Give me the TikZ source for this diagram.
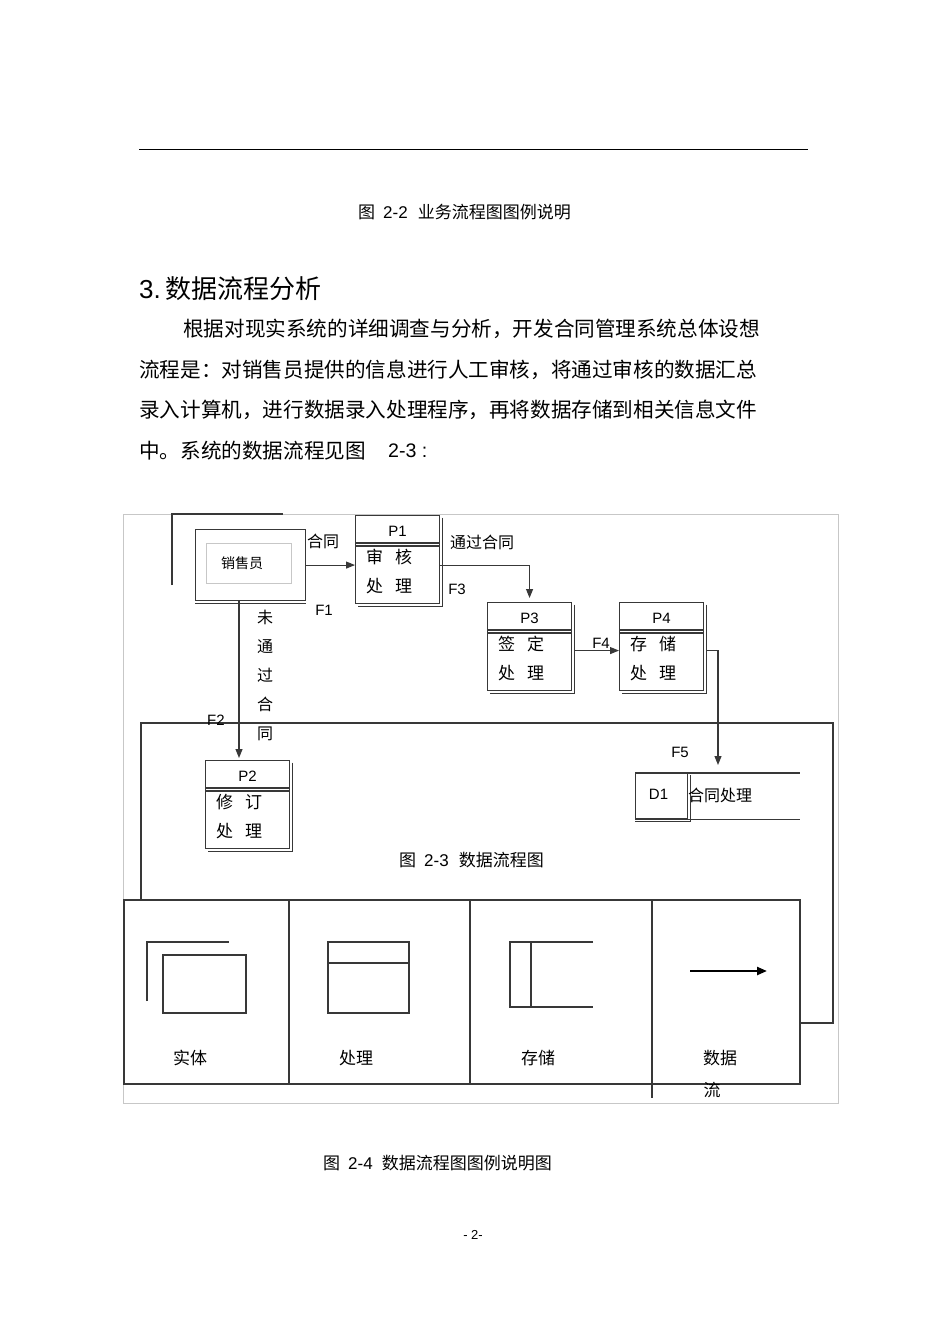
\documentclass[tikz,border=0pt]{standalone}
\usepackage{fontspec}
\setmainfont{Noto Sans CJK SC}
\newfontfamily\lat{Liberation Sans}
\usetikzlibrary{calc,arrows.meta}
\newcommand\fs[1]{\fontsize{#1}{#1}\selectfont}
\tikzset{
  ln/.style={line width=1.1pt,draw=black!78},
  faint/.style={line width=0.8pt,draw=black!22},
  proc/.style={ln,rectangle,inner sep=0,anchor=north west,minimum width=84pt,minimum height=88pt},
  lab/.style={inner sep=0,font=\lat\fs{15}},
  cj/.style={inner sep=0,font=\fs{16}},
  cjp/.style={inner sep=0,font=\fs{17},anchor=west},
  body/.style={inner sep=0,font=\fs{20.6},anchor=west},
  captxt/.style={inner sep=0,font=\fs{17},anchor=west},
  arr/.style={ln,-{Triangle[length=9pt,width=7pt]}},
}
\newcommand\procbox[6]{%
  \node[proc] (#1) at (#2,#3) {};
  \draw[ln] ($(#1.north east)+(2.5,2.5)$) -- ($(#1.south east)+(2.5,2.5)$) -- ($(#1.south west)+(2.5,2.5)$);
  \draw[ln] ($(#1.north west)+(0,28)$) -- ($(#1.north east)+(0,28)$);
  \draw[ln] ($(#1.north west)+(0,31)$) -- ($(#1.north east)+(0,31)$);
  \node[lab] (#1h) at ($(#1.north)+(0,16)$) {#4};
  \node[cjp] (#1a) at ($(#1.north west)+(11,42)$) {#5};
  \node[cjp] (#1b) at ($(#1.north west)+(11,71)$) {#6};
}
\begin{document}
\begin{tikzpicture}[x=1pt,y=-1pt]
\useasboundingbox[fill=white] (0,0) rectangle (950,1342);

% page text
\draw[line width=1pt] (139,149) -- (808,149);
\node[captxt] (cap22) at (358,212) {图\hspace{8pt}{\lat 2-2}\hspace{10pt}业务流程图图例说明};
\node[inner sep=0,anchor=west,font=\fs{26}] (h3) at (139,289) {{\lat 3.}\hspace{5pt}数据流程分析};
\node[body] (b1) at (183,329) {根据对现实系统的详细调查与分析，开发合同管理系统总体设想};
\node[body] (b2) at (139,370) {流程是：对销售员提供的信息进行人工审核，将通过审核的数据汇总};
\node[body] (b3) at (139,410) {录入计算机，进行数据录入处理程序，再将数据存储到相关信息文件};
\node[body] (b4) at (139,451) {中。系统的数据流程见图};
\node[inner sep=0,anchor=west,font=\lat\fs{19.6}] (b4b) at (388,451) {2-3 :};

% diagram frames
\draw[faint] (123,514) rectangle (838,1103);
\draw[ln] (141,900) -- (141,723) -- (833,723) -- (833,1023) -- (800,1023);

% entity
\draw[ln] (172,585) -- (172,514) -- (283,514);
\node[ln,rectangle,inner sep=0,anchor=north west,minimum width=110pt,minimum height=71pt] (S) at (195,529) {};
\draw[ln] ($(S.south west)+(0,2)$) -- ($(S.south east)+(0,2)$);
\draw[faint] (206,543) rectangle (291,583);
\node[inner sep=0,font=\fs{14}] (St) at (242,563) {销售员};

% processes
\procbox{P1}{355}{515}{P1}{审\hspace{12pt}核}{处\hspace{12pt}理}
\procbox{P3}{487}{602}{P3}{签\hspace{12pt}定}{处\hspace{12pt}理}
\procbox{P4}{619}{602}{P4}{存\hspace{12pt}储}{处\hspace{12pt}理}
\procbox{P2}{205}{760}{P2}{修\hspace{12pt}订}{处\hspace{12pt}理}

% store
\node[ln,rectangle,inner sep=0,anchor=north west,minimum width=52pt,minimum height=45pt] (D1) at (635,773) {};
\draw[ln] ($(D1.north east)+(2.5,2)$) -- ($(D1.south east)+(2.5,2)$) -- ($(D1.south west)+(0,2)$);
\draw[ln] (D1.north west) -- ($(D1.north west)+(165,0)$);
\draw[ln] (D1.south west) -- ($(D1.south west)+(165,0)$);
\node[lab] (D1t) at ($(D1.center)+(-3,-2)$) {D1};
\node[cj,anchor=west] (D1n) at (688,795) {合同处理};

% connectors
\coordinate (s1) at ($(S.south west)+(44,0)$);
\draw[arr] (S.east) -- (S.east -| P1.west);
\draw[arr,shorten >=4pt] (P1.east |- S.east) -| (P3.north);
\draw[arr] ($(P3.east)+(2.5,4)$) -- ($(P4.west)+(0,4)$);
\draw[arr,shorten >=8pt] ($(P4.east)+(2.5,4)$) -| ($(D1.north west)+(83,0)$);
\draw[arr,shorten >=2pt] (s1) -- (s1 |- P2.north);

% labels
\node[cj] (l1) at (323,541) {合同};
\node[cj] (l2) at (482,542) {通过合同};
\node[inner sep=0,font=\fontsize{16}{29}\selectfont,align=center] (l3) at (265,675.5) {未\\通\\过\\合\\同};
\node[lab] (F1) at (324,610) {F1};
\node[lab] (F2) at (216,720) {F2};
\node[lab] (F3) at (457,589) {F3};
\node[lab] (F4) at (601,643) {F4};
\node[lab] (F5) at (680,752) {F5};
\node[captxt] (cap23) at (399,860) {图\hspace{8pt}{\lat 2-3}\hspace{10pt}数据流程图};

% legend
\draw[ln] (124,900) rectangle (800,1084);
\draw[ln] (289,900) -- (289,1084);
\draw[ln] (470,900) -- (470,1084);
\draw[ln] (652,900) -- (652,1098);
\draw[ln] (147,1001) -- (147,942) -- (229,942);
\draw[ln] (163,955) rectangle (246,1013);
\draw[ln] (328,942) rectangle (409,1013);
\draw[ln] (328,963) -- (409,963);
\draw[ln] (593,942) -- (510,942) -- (510,1007) -- (593,1007);
\draw[ln] (531,942) -- (531,1007);
\draw[line width=2.2pt,-{Triangle[length=10pt,width=8pt]}] (690,971) -- (767,971);
\node[cj,font=\fs{17}] (g1) at (190,1058) {实体};
\node[cj,font=\fs{17}] (g2) at (356,1058) {处理};
\node[cj,font=\fs{17}] (g3) at (538,1058) {存储};
\node[cj,font=\fs{17}] (g4) at (720,1058) {数据};
\node[cj,font=\fs{17}] (g5) at (712,1090) {流};

\node[captxt] (cap24) at (323,1163) {图\hspace{8pt}{\lat 2-4}\hspace{9pt}数据流程图图例说明图};
\node[inner sep=0,font=\lat\fs{13}] (pg) at (473,1235) {- 2-};
\end{tikzpicture}
\end{document}
